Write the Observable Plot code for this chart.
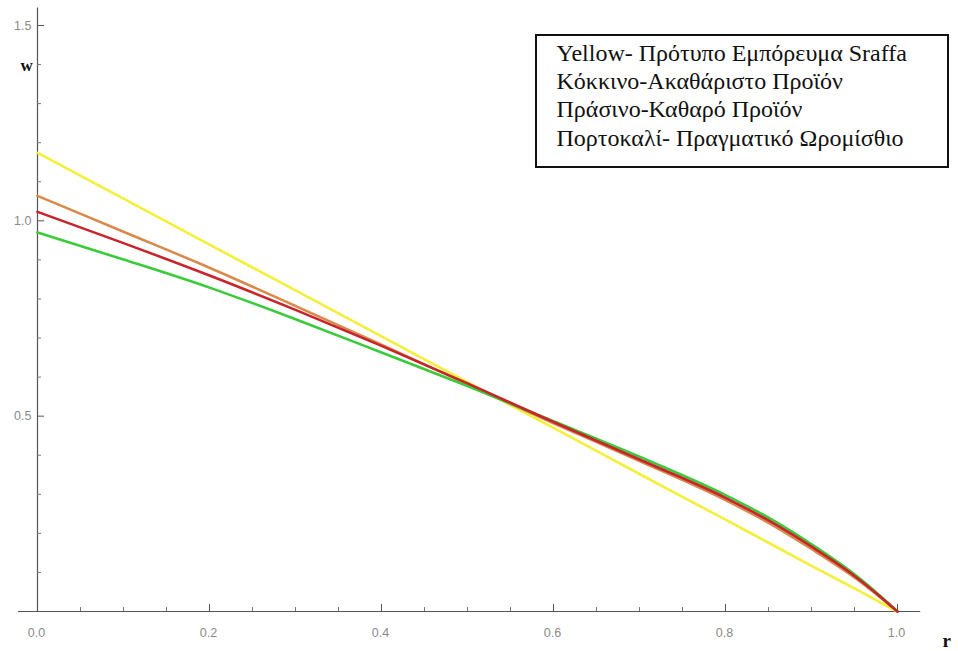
<!DOCTYPE html>
<html>
<head>
<meta charset="utf-8">
<script src="https://cdn.jsdelivr.net/npm/d3@7"></script>
<script src="https://cdn.jsdelivr.net/npm/@observablehq/plot@0.6"></script>
<style>
  html, body { margin: 0; padding: 0; background: #fff; }
  #wrap { position: relative; width: 958px; height: 651px; overflow: hidden; }
  #legendBox {
    position: absolute; left: 535px; top: 34px; width: 414px; height: 134px;
    box-sizing: border-box; border: 2px solid #111; background: transparent;
    pointer-events: none;
  }
</style>
</head>
<body>
<div id="wrap"></div>
<script>
// ---- data ----
const r = [0, 0.1, 0.2, 0.3, 0.4, 0.5, 0.6, 0.7, 0.8, 0.85, 0.9, 0.95, 0.98, 1.0];
const yellowW = [1.174, 1.057, 0.939, 0.822, 0.704, 0.587, 0.470, 0.352, 0.235, 0.176, 0.117, 0.059, 0.023, 0];
const orangeW = [1.064, 0.972, 0.880, 0.782, 0.683, 0.582, 0.482, 0.385, 0.285, 0.227, 0.160, 0.087, 0.036, 0];
const greenW  = [0.970, 0.901, 0.829, 0.748, 0.663, 0.577, 0.487, 0.396, 0.298, 0.240, 0.172, 0.095, 0.040, 0];
const redW    = [1.023, 0.943, 0.860, 0.772, 0.680, 0.584, 0.485, 0.389, 0.291, 0.233, 0.166, 0.091, 0.038, 0];

const seriesKeys = ["s-yellow", "s-orange", "s-green", "s-red"];
const seriesColors = ["#f3ef3a", "#d98a4a", "#3acb3a", "#c8242c"];

const xMajor = [0, 0.2, 0.4, 0.6, 0.8, 1.0];
const xMajorLabels = ["0.0", "0.2", "0.4", "0.6", "0.8", "1.0"];
const xMinor = [0.05, 0.1, 0.15, 0.25, 0.3, 0.35, 0.45, 0.5, 0.55, 0.65, 0.7, 0.75, 0.85, 0.9, 0.95];
const yMajor = [0.5, 1.0, 1.5];
const yMajorLabels = ["0.5", "1.0", "1.5"];
const yMinor = [0.1, 0.2, 0.3, 0.4, 0.6, 0.7, 0.8, 0.9, 1.1, 1.2, 1.3, 1.4];

const xAxisExtent = [-0.022, 1.027];
const yAxisExtent = [0, 1.545];

const legendLines = [
  "Yellow- Πρότυπο Εμπόρευμα Sraffa",
  "Κόκκινο-Ακαθάριστο Προϊόν",
  "Πράσινο-Καθαρό Προϊόν",
  "Πορτοκαλί- Πραγματικό Ωρομίσθιο"
];
const xAxisLabel = "r";
const yAxisLabel = "w";

// ---- build table ----
const seriesValues = [yellowW, orangeW, greenW, redW];
const rows = [];
seriesValues.forEach((vals, s) => vals.forEach((w, i) => rows.push({series: seriesKeys[s], r: r[i], w})));

const W = 958, H = 651;
const pxPerY = 391, pxPerX = 860;
const tickLenMajor = 7, tickLenMinor = 4;

const labelFont = "Liberation Sans, Arial, sans-serif";
const serifFont = "Liberation Serif, Times New Roman, serif";

const chart = Plot.plot({
  width: W, height: H,
  marginTop: 0, marginRight: 0, marginBottom: 0, marginLeft: 0,
  style: {background: "#fff"},
  x: {domain: [0, 1], range: [37, 897], axis: null},
  y: {domain: [0, 1.5], range: [611, 25], axis: null},
  color: {type: "ordinal", domain: seriesKeys, range: seriesColors},
  marks: [
    Plot.ruleY([0], {x1: xAxisExtent[0], x2: xAxisExtent[1], stroke: "#555", strokeWidth: 1.2}),
    Plot.ruleX([0], {y1: yAxisExtent[0], y2: yAxisExtent[1], stroke: "#555", strokeWidth: 1.2}),
    Plot.ruleX(xMajor, {x: d => d, y1: 0, y2: tickLenMajor / pxPerY, stroke: "#555", strokeWidth: 1}),
    Plot.ruleX(xMinor, {x: d => d, y1: 0, y2: tickLenMinor / pxPerY, stroke: "#777", strokeWidth: 1}),
    Plot.ruleY(yMajor, {y: d => d, x1: 0, x2: tickLenMajor / pxPerX, stroke: "#555", strokeWidth: 1}),
    Plot.ruleY(yMinor, {y: d => d, x1: 0, x2: tickLenMinor / pxPerX, stroke: "#777", strokeWidth: 1}),
    Plot.text(xMajor, {x: d => d, y: 0, text: (d, i) => xMajorLabels[i], dy: 21, dx: -1,
      fill: "#8a8a8a", fontSize: 12.5, fontFamily: labelFont}),
    Plot.text(yMajor, {x: 0, y: d => d, text: (d, i) => yMajorLabels[i], dx: -6, textAnchor: "end",
      fill: "#8a8a8a", fontSize: 12.5, fontFamily: labelFont}),
    Plot.line(rows, {x: "r", y: "w", z: "series", stroke: "series", strokeWidth: 2.6, curve: "monotone-x"}),
    Plot.text([yAxisLabel], {frameAnchor: "top-left", dx: 20, dy: 58, text: d => d,
      fontFamily: serifFont, fontWeight: "bold", fontSize: 17, fill: "#111"}),
    Plot.text([xAxisLabel], {frameAnchor: "top-left", dx: 942, dy: 633, text: d => d,
      fontFamily: serifFont, fontWeight: "bold", fontSize: 19, fill: "#111"}),
    // legend text
    Plot.text([legendLines.join("\n")], {frameAnchor: "top-left", dx: 556, dy: 40, text: d => d,
      textAnchor: "start", lineAnchor: "top", lineHeight: 1.18,
      fontFamily: serifFont, fontSize: 24, fill: "#111"})
  ]
});

const wrap = document.getElementById("wrap");
wrap.appendChild(chart);
const box = document.createElement("div");
box.id = "legendBox";
wrap.appendChild(box);
</script>
</body>
</html>
